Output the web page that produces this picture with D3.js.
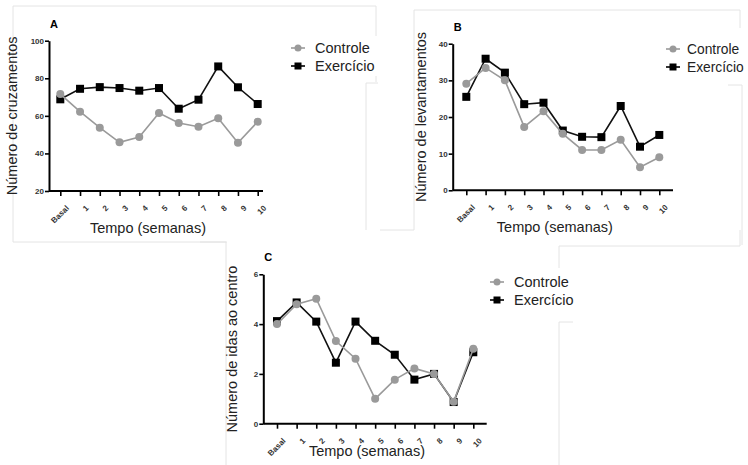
<!DOCTYPE html>
<html>
<head>
<meta charset="utf-8">
<script src="https://cdn.jsdelivr.net/npm/d3@7"></script>
<style>
  body { margin: 0; background: #fff; }
  svg { display: block; font-family: "Liberation Sans", Arial, sans-serif; }
</style>
</head>
<body>
<div id="chart"></div>
<script>
// categories on the x axis (weeks)
const semanas = ["Basal", "1", "2", "3", "4", "5", "6", "7", "8", "9", "10"]

// panel A - number of crossings
const cruzControle  = [71.6, 62.2, 53.7, 45.9, 48.7, 61.5, 56.2, 54.2, 58.7, 45.7, 56.9]
const cruzExercicio = [68.8, 74.4, 75.3, 74.8, 73.4, 74.8, 63.8, 68.6, 86.3, 75.2, 66.3]
const cruzTicks = [20, 40, 60, 80, 100]

// panel B - number of rearings
const levControle  = [29.1, 33.4, 30.0, 17.3, 21.6, 15.4, 11.0, 11.0, 13.8, 6.3, 9.0]
const levExercicio = [25.5, 35.9, 32.1, 23.5, 23.9, 16.3, 14.6, 14.5, 23.0, 11.9, 15.1]
const levTicks = [0, 10, 20, 30, 40]

// panel C - entries to the centre
const idasControle  = [4.0, 4.8, 5.02, 3.32, 2.61, 1.0, 1.77, 2.22, 2.0, 0.88, 3.01]
const idasExercicio = [4.12, 4.87, 4.1, 2.45, 4.1, 3.33, 2.77, 1.77, 2.0, 0.87, 2.87]
const idasTicks = [0, 2, 4, 6]

const legendNames = ["Controle", "Exercício"]
const grey = "#9a9a9a"

const svg = d3.select("#chart")
  .append("svg")
    .attr("width", 748)
    .attr("height", 465)

// faint frame lines left over from the pasted screenshots
const frames = [
  [13, 6, 376, 6], [13, 6, 13, 242], [13, 242, 227, 242], [376, 6, 376, 82],
  [366, 83, 378, 83], [366, 83, 366, 230],
  [414, 10, 740, 10], [414, 10, 414, 230], [380, 230, 414, 230], [740, 10, 740, 28],
  [742, 85, 742, 245], [728, 85, 742, 85],
  [200, 242, 226, 242], [226, 242, 226, 465],
  [559, 246, 740, 246], [740, 230, 740, 246], [559, 246, 559, 268],
  [559, 322, 573, 322], [559, 322, 559, 465]
]
svg.append("g").selectAll("line")
  .data(frames)
  .join("line")
    .attr("x1", d => d[0]).attr("y1", d => d[1])
    .attr("x2", d => d[2]).attr("y2", d => d[3])
    .attr("stroke", "#e4e4e4")
    .attr("stroke-width", 1)

function drawPanel(p) {
    const g = svg.append("g")

    const x = d3.scalePoint()
        .domain(semanas)
        .range([p.x0, p.x1])

    const y = d3.scaleLinear()
        .domain(d3.extent(p.ticks))
        .range([p.yBottom, p.yTop])

    // x axis
    const xAxis = g.append("g")
        .attr("transform", `translate(0,${p.yBottom})`)
        .call(d3.axisBottom(x).tickSize(5).tickSizeOuter(0))
    xAxis.select(".domain").remove()
    xAxis.append("line")
        .attr("x1", p.axisX).attr("x2", p.xEnd)
        .attr("stroke", "#000").attr("stroke-width", 2)
    xAxis.selectAll(".tick line").attr("stroke-width", 1.6)
    xAxis.selectAll(".tick text")
        .attr("font-size", 8)
        .attr("font-weight", "bold")
        .attr("fill", "#333")
        .attr("text-anchor", "end")
        .attr("dy", 0)
        .attr("transform", "translate(3,12) rotate(-45)")

    // y axis
    const yAxis = g.append("g")
        .attr("transform", `translate(${p.axisX},0)`)
        .call(d3.axisLeft(y).tickValues(p.ticks).tickFormat(d3.format("d"))
            .tickSize(4).tickSizeOuter(0).tickPadding(1))
    yAxis.select(".domain").attr("stroke-width", 2)
    yAxis.selectAll(".tick line").attr("stroke-width", 1.6)
    yAxis.selectAll(".tick text")
        .attr("font-size", 8)
        .attr("font-weight", "bold")
        .attr("fill", "#333")

    // titles
    g.append("text")
        .attr("x", p.axisX + 1).attr("y", p.yTop - 13)
        .attr("font-size", 11).attr("font-weight", "bold")
        .text(p.letter)
    g.append("text")
        .attr("x", (p.axisX + p.xEnd) / 2 - 8).attr("y", p.yBottom + p.xLabelDy)
        .attr("text-anchor", "middle")
        .attr("font-size", 14.5)
        .attr("fill", "#222")
        .text("Tempo (semanas)")
    g.append("text")
        .attr("transform", `translate(${p.yLabelX},${(p.yTop + p.yBottom) / 2}) rotate(-90)`)
        .attr("text-anchor", "middle")
        .attr("font-size", 14.5)
        .attr("fill", "#222")
        .text(p.yLabel)

    const line = d3.line()
        .x((d, i) => x(semanas[i]))
        .y(d => y(d))

    // Exercício first, Controle on top
    g.append("path")
        .datum(p.exercicio)
        .attr("fill", "none")
        .attr("stroke", "#111")
        .attr("stroke-width", 1.6)
        .attr("d", line)
    g.append("g").selectAll("rect")
        .data(p.exercicio)
        .join("rect")
            .attr("x", (d, i) => x(semanas[i]) - 4)
            .attr("y", d => y(d) - 4)
            .attr("width", 8).attr("height", 8)
            .attr("fill", "#000")

    g.append("path")
        .datum(p.controle)
        .attr("fill", "none")
        .attr("stroke", grey)
        .attr("stroke-width", 1.6)
        .attr("d", line)
    g.append("g").selectAll("circle")
        .data(p.controle)
        .join("circle")
            .attr("cx", (d, i) => x(semanas[i]))
            .attr("cy", d => y(d))
            .attr("r", 4)
            .attr("fill", grey)

    // legend
    const lg = g.append("g").attr("transform", `translate(${p.legX},${p.legY})`)
    lg.append("rect")
        .attr("x", -10).attr("y", -12).attr("width", 90).attr("height", 40)
        .attr("fill", "#fff")
    lg.append("line").attr("x1", -7).attr("x2", 7).attr("y1", 0).attr("y2", 0)
        .attr("stroke", grey).attr("stroke-width", 1.6)
    lg.append("circle").attr("r", 3.5).attr("fill", grey)
    lg.append("line").attr("x1", -7).attr("x2", 7).attr("y1", 18).attr("y2", 18)
        .attr("stroke", "#000").attr("stroke-width", 1.6)
    lg.append("rect").attr("x", -3.5).attr("y", 14.5).attr("width", 7).attr("height", 7)
        .attr("fill", "#000")
    lg.selectAll("text.leg")
        .data(legendNames)
        .join("text")
            .attr("class", "leg")
            .attr("x", p.legText)
            .attr("y", (d, i) => i * 18 + 5)
            .attr("font-size", p.legSize)
            .attr("fill", "#222")
            .text(d => d)
}

drawPanel({
    letter: "A", yLabel: "Número de cruzamentos", ticks: cruzTicks,
    controle: cruzControle, exercicio: cruzExercicio,
    axisX: 49, xEnd: 263, x0: 60.3, x1: 257.7, yTop: 40.7, yBottom: 191,
    yLabelX: 17, xLabelDy: 42, legX: 298, legY: 48, legText: 17, legSize: 14.5
})

drawPanel({
    letter: "B", yLabel: "Número de levantamentos", ticks: levTicks,
    controle: levControle, exercicio: levExercicio,
    axisX: 452.7, xEnd: 673, x0: 466.3, x1: 659.3, yTop: 43.7, yBottom: 190.3,
    yLabelX: 426, xLabelDy: 42, legX: 673, legY: 49, legText: 14, legSize: 13.8
})

drawPanel({
    letter: "C", yLabel: "Número de idas ao centro", ticks: idasTicks,
    controle: idasControle, exercicio: idasExercicio,
    axisX: 263.3, xEnd: 486.7, x0: 277, x1: 473.3, yTop: 274.3, yBottom: 423.7,
    yLabelX: 237, xLabelDy: 32, legX: 497, legY: 282, legText: 17, legSize: 14.5
})
</script>
</body>
</html>
